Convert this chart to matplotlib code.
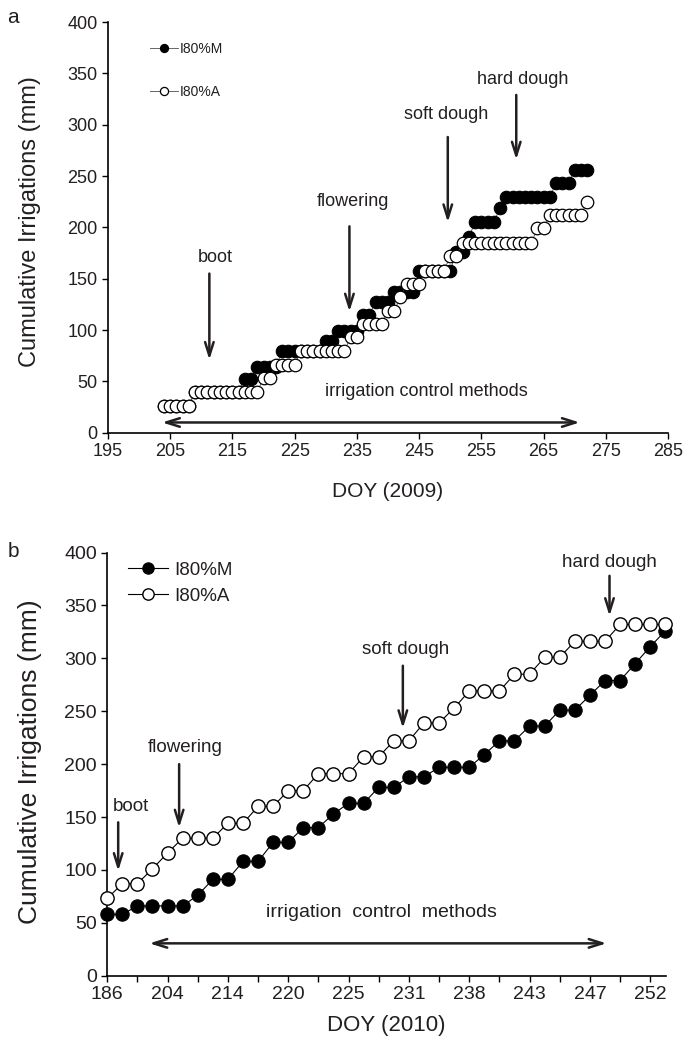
import numpy as np
import matplotlib.pyplot as plt

plt.rcParams['font.family'] = ['Liberation Sans', 'DejaVu Sans']
TXT = '#231f20'

# ---- panel a: 2009, one value per day ----
doy_2009 = np.arange(204, 273)
i80m_2009 = [26, 26, 26, 26, 26,
             40, 40, 40, 40, 40, 40, 40, 40,
             52, 52,
             64, 64, 64, 64,
             80, 80, 80, 80, 80, 80, 80,
             89, 89,
             99, 99, 99, 99,
             115, 115,
             127, 127, 127,
             137, 137, 137, 137,
             158, 158, 158, 158, 158, 158,
             176, 176,
             191,
             205, 205, 205, 205,
             219,
             230, 230, 230, 230, 230, 230, 230, 230,
             243, 243, 243,
             256, 256, 256]
i80a_2009 = [26, 26, 26, 26, 26,
             40, 40, 40, 40, 40, 40, 40, 40, 40, 40, 40,
             53, 53,
             66, 66, 66, 66,
             80, 80, 80, 80, 80, 80, 80, 80,
             93, 93,
             106, 106, 106, 106,
             119, 119,
             132,
             145, 145, 145,
             158, 158, 158, 158,
             172, 172,
             185, 185, 185, 185, 185, 185, 185, 185, 185, 185, 185, 185,
             199, 199,
             212, 212, 212, 212, 212, 212,
             225]

# ---- panel b: 2010, irrigation events (evenly spaced) ----
doy_2010_labels = ['186', '204', '214', '220', '225', '231', '238', '243', '247', '252']
i80m_2010 = [58, 58, 66, 66, 66, 66, 76, 91, 91, 108, 108, 126, 126, 140, 140,
             153, 163, 163, 178, 178, 188, 188, 197, 197, 197, 209, 222, 222,
             236, 236, 251, 251, 265, 279, 279, 295, 311, 326]
i80a_2010 = [73, 87, 87, 101, 116, 130, 130, 130, 144, 144, 160, 160, 175, 175,
             191, 191, 191, 207, 207, 222, 222, 239, 239, 253, 269, 269, 269,
             285, 285, 301, 301, 316, 316, 316, 332, 332, 332, 332]
event_2010 = np.arange(len(i80m_2010))

fig = plt.figure(figsize=(6.96, 10.39), dpi=100)
ax1 = fig.add_axes([0.155, 0.5835, 0.805, 0.3953])
ax2 = fig.add_axes([0.154, 0.0609, 0.803, 0.4073])


def style(ax):
    for s in ['top', 'right']:
        ax.spines[s].set_visible(False)
    for s in ['left', 'bottom']:
        ax.spines[s].set_linewidth(1.2)
    ax.tick_params(which='both', direction='out', length=4, width=1, colors='k',
                   labelcolor=TXT)


def arrow(ax, x, y0, y1):
    ax.annotate('', xy=(x, y1), xytext=(x, y0),
                arrowprops=dict(arrowstyle='->,head_length=0.7,head_width=0.22',
                                lw=1.8, color=TXT, shrinkA=0, shrinkB=0,
                                mutation_scale=14))


# ---------------- panel a ----------------
ax1.plot(doy_2009, i80m_2009, '-o', color='0.3', lw=0.6, ms=9, mfc='k', mec='k',
         mew=0.8, label='I80%M', zorder=3)
ax1.plot(doy_2009, i80a_2009, '-o', color='0.3', lw=0.6, ms=9, mfc='w', mec='k',
         mew=0.9, label='I80%A', zorder=4)
ax1.set_xlim(195, 285)
ax1.set_ylim(0, 400)
ax1.set_xticks(range(195, 286, 10))
ax1.set_yticks(range(0, 401, 50))
style(ax1)
ax1.tick_params(labelsize=13)
ax1.set_xlabel('DOY (2009)', fontsize=15, color=TXT, va='center')
ax1.xaxis.set_label_coords(0.5, -0.144)
ax1.set_ylabel('Cumulative Irrigations (mm)', fontsize=17, color=TXT, va='center')
ax1.yaxis.set_label_coords(-0.139, 0.515)
ax1.legend(loc='upper left', bbox_to_anchor=(0.075, 0.951), frameon=False,
           fontsize=10, borderpad=0, borderaxespad=0, handlelength=2.0,
           handletextpad=0.15, labelspacing=2.1, markerscale=0.65, labelcolor=TXT)

for label, xt, yt, xa, ya0, ya1 in [('boot', 212.3, 171, 211.3, 155, 71),
                                    ('flowering', 234.3, 225, 233.8, 201, 118),
                                    ('soft dough', 249.4, 310, 249.6, 288, 205),
                                    ('hard dough', 261.6, 344, 260.6, 329, 266)]:
    ax1.text(xt, yt, label, fontsize=13, color=TXT, ha='center', va='center')
    arrow(ax1, xa, ya0, ya1)
ax1.text(246.2, 40, 'irrigation control methods', fontsize=13, color=TXT,
         ha='center', va='center')
ax1.annotate('', xy=(270.8, 10), xytext=(203.7, 10),
             arrowprops=dict(arrowstyle='<->,head_length=0.7,head_width=0.22',
                             lw=1.8, color=TXT, shrinkA=0, shrinkB=0,
                             mutation_scale=14))

# ---------------- panel b ----------------
ax2.plot(event_2010, i80m_2010, '-o', color='k', lw=0.8, ms=9.6, mfc='k', mec='k',
         mew=0.8, label='I80%M', clip_on=False, zorder=3)
ax2.plot(event_2010, i80a_2010, '-o', color='k', lw=0.8, ms=9.6, mfc='w', mec='k',
         mew=1.0, label='I80%A', clip_on=False, zorder=4)
ax2.set_xlim(0, 37.05)
ax2.set_ylim(0, 400)
ax2.set_xticks(event_2010[::4])
ax2.set_xticklabels(doy_2010_labels)
ax2.set_xticks(event_2010[2::4], minor=True)
ax2.set_yticks(range(0, 401, 50))
style(ax2)
ax2.tick_params(labelsize=14)
ax2.set_xlabel('DOY (2010)', fontsize=16, color=TXT, va='center')
ax2.xaxis.set_label_coords(0.5, -0.1165)
ax2.set_ylabel('Cumulative Irrigations (mm)', fontsize=19, color=TXT, va='center')
ax2.yaxis.set_label_coords(-0.138, 0.505)
ax2.legend(loc='upper left', bbox_to_anchor=(0.037, 0.978), frameon=False,
           fontsize=13.5, borderpad=0, borderaxespad=0, handlelength=2.15,
           handletextpad=0.3, labelspacing=0.45, markerscale=0.85, labelcolor=TXT)

for label, xt, yt, xa, ya0, ya1 in [('boot', 1.6, 160, 0.73, 145, 99),
                                    ('flowering', 5.17, 216, 4.77, 200, 140),
                                    ('soft dough', 19.8, 308, 19.6, 293, 234),
                                    ('hard dough', 33.3, 391, 33.3, 378, 340)]:
    ax2.text(xt, yt, label, fontsize=13.5, color=TXT, ha='center', va='center')
    arrow(ax2, xa, ya0, ya1)
ax2.text(18.2, 60, 'irrigation  control  methods', fontsize=14, color=TXT,
         ha='center', va='center')
ax2.annotate('', xy=(33.1, 30.6), xytext=(2.8, 30.6),
             arrowprops=dict(arrowstyle='<->,head_length=0.7,head_width=0.22',
                             lw=1.8, color=TXT, shrinkA=0, shrinkB=0,
                             mutation_scale=14))

fig.text(0.019, 0.983, 'a', fontsize=15, color=TXT, ha='center', va='center')
fig.text(0.019, 0.469, 'b', fontsize=15, color=TXT, ha='center', va='center')

fig.savefig('out.png', dpi=100)
